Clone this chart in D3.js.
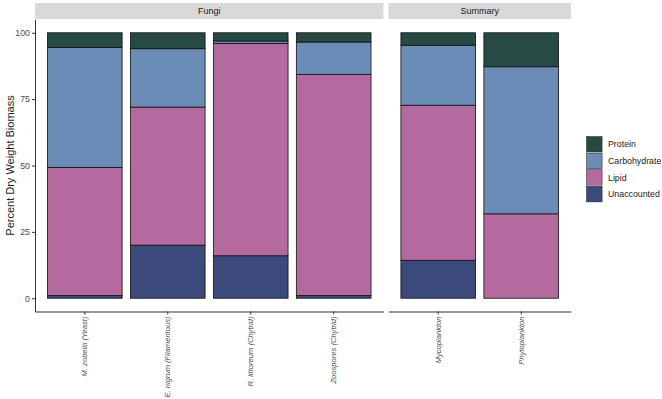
<!DOCTYPE html>
<html>
<head>
<meta charset="utf-8">
<script src="https://cdn.jsdelivr.net/npm/d3@7"></script>
<style>
  body { margin: 0; background: #fff; }
  text { font-family: "Liberation Sans", Arial, sans-serif; }
</style>
</head>
<body>
<div id="chart"></div>
<script>
// Data
var fungiNames = ["M. zobellii (Yeast)", "E. nigrum (Filamentous)", "R. littoreum (Chytrid)", "Zoospores (Chytrid)"];
var summaryNames = ["Mycoplankton", "Phytoplankton"];
var categories = fungiNames.concat(summaryNames);
var unaccounted = [1, 20, 16, 1, 14.3, 0];
var lipid = [48.3, 52, 80, 83.3, 58.4, 31.8];
var carbohydrate = [45.2, 22, 0.9, 12.2, 22.6, 55.4];
var protein = [5.5, 6, 3.1, 3.5, 4.7, 12.8];
var yTicks = [0, 25, 50, 75, 100];

var keys = ["Unaccounted", "Lipid", "Carbohydrate", "Protein"];
var legendKeys = ["Protein", "Carbohydrate", "Lipid", "Unaccounted"];
var colors = d3.scaleOrdinal()
  .domain(keys)
  .range(["#3c4a7b", "#b4699f", "#6a8cb7", "#274a45"]);

var rows = categories.map((c, i) => ({
  name: c,
  facet: i < fungiNames.length ? "Fungi" : "Summary",
  Unaccounted: unaccounted[i],
  Lipid: lipid[i],
  Carbohydrate: carbohydrate[i],
  Protein: protein[i]
}));

// Size
var w = 662, h = 399;
var plotLeft = 35, plotRight = 571, gap = 5;
var panelTop = 19.5, panelBottom = 311.5;
var stripH = 16;

var unit = (plotRight - plotLeft - gap) / (fungiNames.length + summaryNames.length + 0.4);
var panels = [
  {name: "Fungi", cats: fungiNames, x0: plotLeft, x1: plotLeft + unit * (fungiNames.length + 0.2)},
];
panels.push({name: "Summary", cats: summaryNames, x0: panels[0].x1 + gap, x1: plotRight});

panels.forEach(p => {
  p.scale = d3.scaleBand()
    .domain(p.cats)
    .range([p.x0, p.x1])
    .paddingInner(0.1)
    .paddingOuter(0.15);
});

var yScale = d3.scaleLinear()
  .domain([-5, 105])
  .range([panelBottom, panelTop]);

var svg = d3.select("#chart")
  .append("svg")
    .attr("width", w)
    .attr("height", h);

svg.append("rect")
  .attr("width", w)
  .attr("height", h)
  .attr("fill", "#fff");

var stack = d3.stack().keys(keys);

panels.forEach(p => {
  var g = svg.append("g");

  // strip
  g.append("rect")
    .attr("x", p.x0)
    .attr("y", panelTop - stripH - 0.5)
    .attr("width", p.x1 - p.x0)
    .attr("height", stripH)
    .attr("fill", "#d9d9d9");
  g.append("text")
    .attr("x", (p.x0 + p.x1) / 2)
    .attr("y", panelTop - stripH / 2 - 0.5)
    .attr("dy", "0.35em")
    .attr("text-anchor", "middle")
    .attr("font-size", 9)
    .attr("fill", "#1a1a1a")
    .text(p.name);

  var series = stack(rows.filter(r => r.facet === p.name));

  g.selectAll("g.layer")
    .data(series)
    .enter()
    .append("g")
    .attr("class", "layer")
    .attr("fill", d => colors(d.key))
    .selectAll("rect")
    .data(d => d)
    .enter()
    .append("rect")
      .attr("x", d => p.scale(d.data.name))
      .attr("y", d => yScale(d[1]))
      .attr("width", p.scale.bandwidth())
      .attr("height", d => yScale(d[0]) - yScale(d[1]))
      .attr("stroke", "#111")
      .attr("stroke-width", 0.8);

  // x axis
  var xAxis = g.append("g")
    .attr("transform", `translate(0,${panelBottom})`)
    .call(d3.axisBottom(p.scale).tickSize(3).tickSizeOuter(0));
  xAxis.select(".domain").attr("stroke", "#333").attr("stroke-width", 1);
  xAxis.selectAll(".tick line").attr("stroke", "#333");
  xAxis.selectAll(".tick text")
    .attr("transform", "rotate(-90)")
    .attr("text-anchor", "end")
    .attr("x", -5)
    .attr("y", 0)
    .attr("dy", "0.35em")
    .attr("font-size", 7.6)
    .attr("font-style", "italic")
    .attr("fill", "#4d4d4d");
});

// y axis
var yAxis = svg.append("g")
  .attr("transform", `translate(${plotLeft},0)`)
  .call(d3.axisLeft(yScale).tickValues(yTicks).tickSize(3).tickSizeOuter(0));
yAxis.select(".domain").attr("stroke", "#333").attr("stroke-width", 1);
yAxis.selectAll(".tick line").attr("stroke", "#333");
yAxis.selectAll(".tick text")
  .attr("font-size", 8.8)
  .attr("fill", "#4d4d4d")
  .attr("x", -5);

svg.append("text")
  .attr("transform", `translate(10,${(panelTop + panelBottom) / 2}) rotate(-90)`)
  .attr("text-anchor", "middle")
  .attr("dy", "0.35em")
  .attr("font-size", 11)
  .attr("fill", "#1a1a1a")
  .text("Percent Dry Weight Biomass");

// legend
var legend = svg.append("g")
  .attr("transform", "translate(586,136)");
var item = legend.selectAll("g")
  .data(legendKeys)
  .enter()
  .append("g")
  .attr("transform", (d, i) => `translate(0,${i * 16.6})`);
item.append("rect")
  .attr("width", 16.6)
  .attr("height", 16.6)
  .attr("fill", "#fff");
item.append("rect")
  .attr("x", 0.5)
  .attr("y", 0.5)
  .attr("width", 15.6)
  .attr("height", 15.6)
  .attr("fill", d => colors(d))
  .attr("stroke", "#222")
  .attr("stroke-width", 0.5);
item.append("text")
  .attr("x", 22)
  .attr("y", 8.3)
  .attr("dy", "0.35em")
  .attr("font-size", 8.8)
  .attr("fill", "#1a1a1a")
  .text(d => d);
</script>
</body>
</html>
